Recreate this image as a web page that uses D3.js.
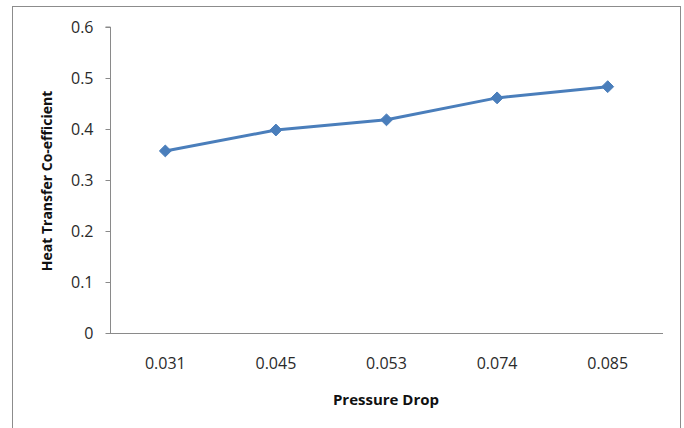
<!DOCTYPE html>
<html>
<head>
<meta charset="utf-8">
<script src="https://cdn.jsdelivr.net/npm/d3@7"></script>
<style>
  html, body { margin: 0; padding: 0; background: #ffffff; }
  svg { display: block; }
</style>
</head>
<body>
<svg id="chart" width="684" height="428"></svg>
<script>
// Heat transfer co-efficient against pressure drop
const categories = ["0.031", "0.045", "0.053", "0.074", "0.085"];
const values = [0.357, 0.398, 0.418, 0.461, 0.483];
const yTicks = [0, 0.1, 0.2, 0.3, 0.4, 0.5, 0.6];
const xTitle = "Pressure Drop";
const yTitle = "Heat Transfer Co-efficient";

const svg = d3.select("#chart");
const font = "'Open Sans', 'Noto Sans', sans-serif";
const axisColor = "#8a8a8a";
const tickFontSize = 16;

// chart frame
svg.append("rect")
  .attr("x", 12.5).attr("y", 6.5)
  .attr("width", 668).attr("height", 440)
  .attr("fill", "#ffffff")
  .attr("stroke", "#8c8c8c").attr("stroke-width", 1);

const plotLeft = 110, plotRight = 663, plotTop = 27, plotBottom = 333;

const x = d3.scaleBand().domain(categories).range([plotLeft, plotRight]);
const y = d3.scaleLinear().domain([0, 0.6]).range([plotBottom, plotTop]);

// y axis
const yAxis = svg.append("g")
  .attr("transform", `translate(${plotLeft + 0.5},0)`)
  .call(d3.axisLeft(y).tickValues(yTicks).tickSize(5).tickPadding(12)
    .tickFormat(d => d === 0 ? "0" : d3.format(".1f")(d)));
yAxis.select(".domain").attr("stroke", axisColor).attr("d", `M-5,${y(0.6)}H0V${y(0)}`);
yAxis.selectAll(".tick line").attr("stroke", axisColor);
yAxis.selectAll(".tick text")
  .attr("font-family", font).attr("font-size", tickFontSize).attr("fill", "#2a2a2a");

// x axis
const xAxis = svg.append("g")
  .attr("transform", `translate(0,${plotBottom + 0.5})`)
  .call(d3.axisBottom(x).tickSize(0).tickPadding(24));
xAxis.select(".domain").attr("stroke", axisColor).attr("d", `M${plotLeft},0H${plotRight}`);
xAxis.selectAll(".tick text")
  .attr("font-family", font).attr("font-size", tickFontSize).attr("fill", "#2a2a2a");

// axis titles
svg.append("text")
  .attr("x", 386).attr("y", 405)
  .attr("text-anchor", "middle")
  .attr("font-family", font).attr("font-size", 15).attr("font-weight", "bold")
  .attr("fill", "#111")
  .text(xTitle);

svg.append("text")
  .attr("transform", `translate(52,181) rotate(-90)`)
  .attr("text-anchor", "middle")
  .attr("font-family", font).attr("font-size", 14).attr("font-weight", "bold")
  .attr("fill", "#111")
  .text(yTitle);

// series line
const cx = d => x(d) + x.bandwidth() / 2;
const line = d3.line()
  .x((d, i) => cx(categories[i]))
  .y(d => y(d));

svg.append("path")
  .datum(values)
  .attr("d", line)
  .attr("fill", "none")
  .attr("stroke", "#4a7ebb")
  .attr("stroke-width", 3)
  .attr("stroke-linejoin", "round");

// diamond markers
svg.selectAll(".marker")
  .data(values)
  .join("path")
  .attr("class", "marker")
  .attr("transform", (d, i) => `translate(${cx(categories[i])},${y(d)})`)
  .attr("d", d3.symbol(d3.symbolDiamond2, 90)())
  .attr("fill", "#4a7ebb")
  .attr("stroke", "#4a7ebb")
  .attr("stroke-width", 1);
</script>
</body>
</html>
